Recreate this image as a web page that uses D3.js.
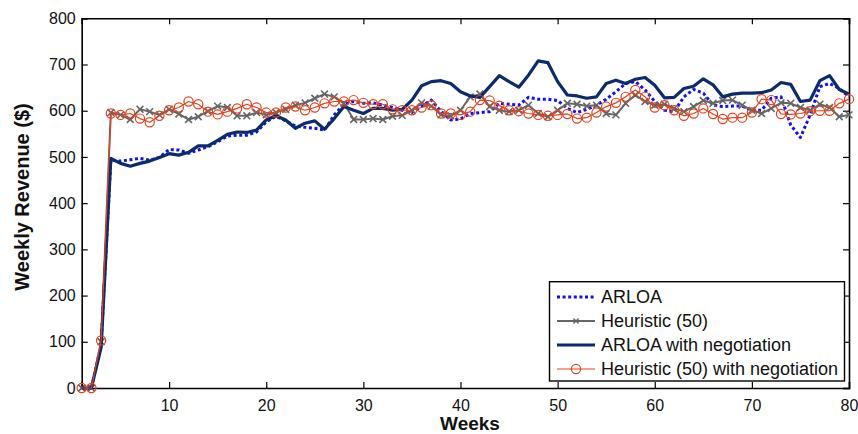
<!DOCTYPE html>
<html>
<head>
<meta charset="utf-8">
<script src="https://cdn.jsdelivr.net/npm/d3@7"></script>
<style>
  html, body { margin: 0; padding: 0; background: #fff; }
  svg { display: block; font-family: Arial, 'Liberation Sans', sans-serif; }
</style>
</head>
<body>
<svg id="chart" width="858" height="434"></svg>
<script>
// --- data ---
const weeks = [
  1, 2, 3, 4, 5, 6, 7, 8, 9, 10, 11, 12, 13, 14, 15, 16, 17, 18, 19, 20,
  21, 22, 23, 24, 25, 26, 27, 28, 29, 30, 31, 32, 33, 34, 35, 36, 37, 38, 39, 40,
  41, 42, 43, 44, 45, 46, 47, 48, 49, 50, 51, 52, 53, 54, 55, 56, 57, 58, 59, 60,
  61, 62, 63, 64, 65, 66, 67, 68, 69, 70, 71, 72, 73, 74, 75, 76, 77, 78, 79, 80
];

const arloa = [
  0, 0, 95, 493, 491, 494, 497, 493, 499, 516, 515, 508, 515, 522, 533, 545, 547, 547, 554, 576,
  588, 578, 567, 564, 562, 558, 591, 614, 620, 616, 617, 612, 607, 601, 596, 610, 623, 598, 580, 582,
  594, 596, 598, 616, 614, 612, 629, 625, 625, 622, 605, 596, 603, 612, 625, 641, 659, 663, 645, 620,
  601, 598, 630, 646, 638, 612, 609, 610, 610, 601, 601, 627, 630, 569, 542, 591, 652, 659, 648, 630
];

const heuristic = [
  0, 0, 100, 596, 591, 581, 603, 598, 591, 603, 593, 581, 587, 599, 610, 607, 589, 589, 596, 591,
  596, 603, 612, 617, 627, 636, 630, 616, 581, 581, 583, 581, 588, 590, 601, 617, 610, 591, 589, 601,
  630, 636, 609, 601, 598, 601, 612, 594, 587, 601, 616, 614, 610, 612, 594, 591, 616, 634, 620, 612,
  614, 605, 598, 609, 622, 616, 622, 623, 612, 601, 594, 605, 617, 616, 607, 601, 614, 607, 587, 591
];

const arloaNeg = [
  0, 0, 88, 497, 486, 480, 486, 491, 499, 507, 504, 510, 524, 524, 536, 549, 554, 553, 558, 580,
  589, 580, 562, 573, 578, 560, 583, 609, 601, 594, 605, 605, 601, 603, 623, 654, 663, 665, 659, 641,
  632, 629, 652, 676, 663, 651, 677, 708, 704, 663, 634, 632, 627, 630, 659, 666, 659, 668, 672, 655,
  628, 629, 648, 653, 669, 656, 630, 636, 638, 638, 639, 645, 661, 657, 620, 623, 665, 676, 646, 636
];

const heuristicNeg = [
  0, 0, 103, 594, 591, 594, 583, 575, 589, 601, 607, 620, 614, 598, 592, 598, 605, 614, 607, 596,
  596, 607, 609, 601, 607, 616, 620, 620, 623, 617, 614, 614, 603, 601, 601, 607, 612, 594, 594, 591,
  598, 623, 622, 611, 601, 599, 594, 591, 589, 591, 593, 583, 585, 596, 609, 617, 630, 645, 630, 607,
  612, 601, 589, 594, 605, 593, 582, 585, 585, 596, 625, 623, 593, 592, 594, 599, 600, 600, 616, 625
];

const xTicks = [10, 20, 30, 40, 50, 60, 70, 80];
const yTicks = [0, 100, 200, 300, 400, 500, 600, 700, 800];

const legendLabels = ['ARLOA', 'Heuristic (50)', 'ARLOA with negotiation', 'Heuristic (50) with negotiation'];

// --- series styles ---
const SERIES = [
  { values: arloa,        colour: '#1010f0', width: 3,   dash: '3,2.6', marker: null },
  { values: heuristic,    colour: '#666666', width: 2,   dash: null,    marker: 'x' },
  { values: arloaNeg,     colour: '#0c2b6c', width: 3.2, dash: null,    marker: null },
  { values: heuristicNeg, colour: '#e5401c', width: 1.2, dash: null,    marker: 'o' },
];

const plot = { left: 81.7, right: 849, top: 18.3, bottom: 388 };

const svg = d3.select('#chart');

const x = d3.scaleLinear().domain([1, 80]).range([plot.left, plot.right]);
const y = d3.scaleLinear().domain([0, 800]).range([plot.bottom, plot.top]);

// Axes — MATLAB style box with inward ticks
const axisG = svg.append('g').attr('class', 'axes');

axisG.append('g')
  .attr('transform', `translate(0,${plot.bottom})`)
  .call(d3.axisBottom(x).tickValues(xTicks).tickSize(-6).tickPadding(12).tickFormat(d3.format('d')));

axisG.append('g')
  .attr('transform', `translate(0,${plot.top})`)
  .call(d3.axisTop(x).tickValues(xTicks).tickSize(-6).tickFormat(''));

axisG.append('g')
  .attr('transform', `translate(${plot.left},0)`)
  .call(d3.axisLeft(y).tickValues(yTicks).tickSize(-6).tickPadding(6).tickFormat(d3.format('d')));

axisG.append('g')
  .attr('transform', `translate(${plot.right},0)`)
  .call(d3.axisRight(y).tickValues(yTicks).tickSize(-6).tickFormat(''));

axisG.selectAll('.domain').attr('stroke', '#000').attr('stroke-width', 1.6);
axisG.selectAll('.tick line').attr('stroke', '#000').attr('stroke-width', 1.2);
axisG.selectAll('.tick text')
  .attr('fill', '#111')
  .attr('font-size', '16px')
  .attr('font-family', 'Arial, Liberation Sans, sans-serif');

// Lines
const lineGen = d3.line()
  .x(d => x(d[0]))
  .y(d => y(d[1]));

const seriesG = svg.append('g').attr('class', 'series');

SERIES.forEach(s => {
  const pts = weeks.map((w, i) => [w, s.values[i]]);
  seriesG.append('path')
    .datum(pts)
    .attr('d', lineGen)
    .attr('fill', 'none')
    .attr('stroke', s.colour)
    .attr('stroke-width', s.width)
    .attr('stroke-linejoin', 'round')
    .attr('stroke-dasharray', s.dash);

  if (s.marker) drawMarkers(seriesG, pts, s);
});

function drawMarkers(g, pts, s) {
  if (s.marker === 'o') {
    g.append('g').selectAll('circle')
      .data(pts)
      .enter()
      .append('circle')
      .attr('cx', d => x(d[0]))
      .attr('cy', d => y(d[1]))
      .attr('r', 4.6)
      .attr('fill', 'none')
      .attr('stroke', s.colour)
      .attr('stroke-width', 1.2);
  } else {
    const k = 3.4;
    g.append('g').selectAll('path')
      .data(pts)
      .enter()
      .append('path')
      .attr('d', d => {
        const cx = x(d[0]), cy = y(d[1]);
        return `M${cx - k},${cy - k}L${cx + k},${cy + k}M${cx - k},${cy + k}L${cx + k},${cy - k}`;
      })
      .attr('stroke', s.colour)
      .attr('stroke-width', 1.6)
      .attr('fill', 'none');
  }
}

// Axis titles
svg.append('text')
  .attr('x', 470)
  .attr('y', 430)
  .attr('text-anchor', 'middle')
  .attr('font-size', '19px')
  .attr('font-weight', 'bold')
  .attr('fill', '#111')
  .text('Weeks');

svg.append('text')
  .attr('transform', 'translate(29,197) rotate(-90)')
  .attr('text-anchor', 'middle')
  .attr('font-size', '20px')
  .attr('font-weight', 'bold')
  .attr('fill', '#111')
  .text('Weekly Revenue ($)');

// Legend
const leg = svg.append('g').attr('class', 'legend');
const legBox = { x: 549.5, y: 281.7, w: 295, h: 99.3 };

leg.append('rect')
  .attr('x', legBox.x)
  .attr('y', legBox.y)
  .attr('width', legBox.w)
  .attr('height', legBox.h)
  .attr('fill', '#fff')
  .attr('stroke', '#000')
  .attr('stroke-width', 1.4);

const rowY = [297, 321, 345, 369];

SERIES.forEach((s, i) => {
  const ly = rowY[i];
  leg.append('line')
    .attr('x1', 557).attr('x2', 595)
    .attr('y1', ly).attr('y2', ly)
    .attr('stroke', s.colour)
    .attr('stroke-width', s.width)
    .attr('stroke-dasharray', s.dash);

  if (s.marker === 'o') {
    leg.append('circle')
      .attr('cx', 576).attr('cy', ly).attr('r', 4.6)
      .attr('fill', 'none').attr('stroke', s.colour).attr('stroke-width', 1.2);
  } else if (s.marker === 'x') {
    const k = 2.6;
    leg.append('path')
      .attr('d', `M${576 - k},${ly - k}L${576 + k},${ly + k}M${576 - k},${ly + k}L${576 + k},${ly - k}`)
      .attr('stroke', s.colour).attr('stroke-width', 1.4);
  }

  leg.append('text')
    .attr('x', 601)
    .attr('y', ly)
    .attr('dy', '0.35em')
    .attr('font-size', '18px')
    .attr('fill', '#111')
    .text(legendLabels[i]);
});
</script>
</body>
</html>
